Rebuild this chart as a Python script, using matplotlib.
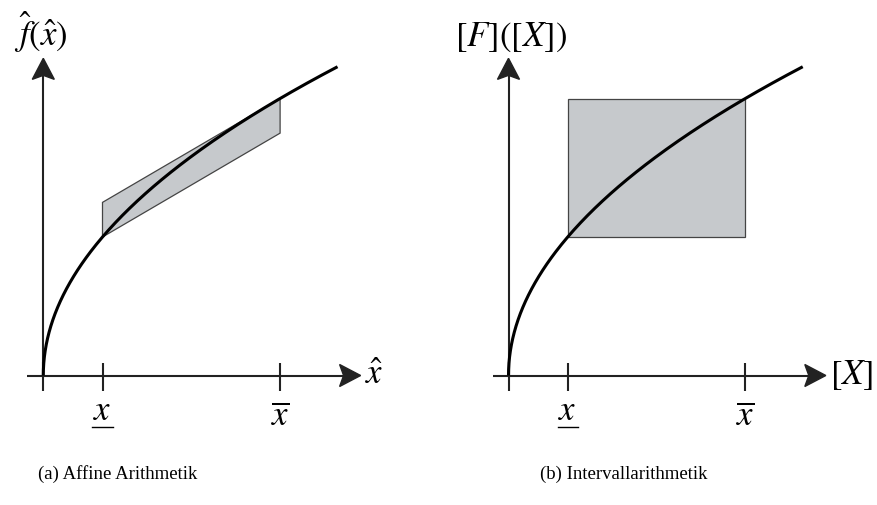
import numpy as np
import matplotlib.pyplot as plt
from matplotlib.patches import Polygon

plt.rcParams['mathtext.fontset'] = 'stix'
plt.rcParams['font.family'] = ['Liberation Serif', 'DejaVu Serif']

# interval [x_lo, x_hi] and where the drawn curve stops
x_lo = 1.0
x_hi = 4.0
x_end = 4.97
captions = ['(a) Affine Arithmetik', '(b) Intervallarithmetik']
y_labels = [r'$\hat{f}(\hat{x})$', r'$[F]([X])$']
x_labels = [r'$\hat{x}$', r'$[X]$']

W, H = 877, 505
sx, sy = 59.2, 138.5   # pixels per data unit
oy = 375.5             # pixel row of the x axis
axis_col = '#222222'
fill_col = '#c6c9cc'
edge_col = '#444444'
math_size = 25


def f(x):
    return np.sqrt(x)


def df(x):
    return 0.5 / np.sqrt(x)


def make_axes(fig, left_px, right_px, ox):
    ax = fig.add_axes([left_px / W, 0, (right_px - left_px) / W, 1])
    ax.set_xlim((left_px - ox) / sx, (right_px - ox) / sx)
    ax.set_ylim((oy - H) / sy, oy / sy)
    ax.axis('off')
    return ax


def draw_frame(ax, x_label, y_label, y_label_x):
    x_tip, y_tip = 5.36, 2.29
    L, w, n = 21, 11, 4   # arrow head length, half width, notch (px)
    ax.plot([-0.27, x_tip - (L - n) / sx], [0, 0], color=axis_col, lw=1.5,
            solid_capstyle='butt', zorder=3)
    ax.plot([0, 0], [-15.5 / sy, y_tip - (L - n) / sy], color=axis_col,
            lw=1.5, solid_capstyle='butt', zorder=3)
    ax.add_patch(Polygon([(x_tip, 0), (x_tip - L / sx, w / sy),
                          (x_tip - (L - n) / sx, 0), (x_tip - L / sx, -w / sy)],
                         closed=True, color=axis_col, zorder=4))
    ax.add_patch(Polygon([(0, y_tip), (w / sx, y_tip - L / sy),
                          (0, y_tip - (L - n) / sy), (-w / sx, y_tip - L / sy)],
                         closed=True, color=axis_col, zorder=4))
    for xt in (x_lo, x_hi):
        ax.plot([xt, xt], [-15.5 / sy, 12.5 / sy], color=axis_col, lw=1.5,
                solid_capstyle='butt', zorder=3)
    ax.plot([0, 0], [0, 12.5 / sy], color=axis_col, lw=1.5, zorder=3)

    ax.text(5.43, 0.0, x_label, fontsize=math_size, ha='left', va='center')
    ax.text(y_label_x, 2.379, y_label, fontsize=math_size, ha='center',
            va='baseline')

    # interval bounds under the ticks
    ax.text(x_lo, -0.321, r'$x$', fontsize=math_size, ha='center',
            va='baseline')
    ax.plot([x_lo - 0.17, x_lo + 0.17], [-0.375, -0.375], color='black',
            lw=1.0)
    ax.text(x_hi, -0.357, r'$\overline{x}$', fontsize=math_size, ha='center',
            va='baseline')


def draw_curve(ax):
    xs = np.linspace(0, np.sqrt(x_end), 300) ** 2
    ax.plot(xs, f(xs), color='black', lw=2.2, zorder=5,
            solid_capstyle='butt')


fig = plt.figure(figsize=(W / 100, H / 100), dpi=100)

# (a) affine form: band with slope f'(x_hi) through both endpoints
ax1 = make_axes(fig, 0, W / 2, 43.3)
slope = df(x_hi)
band = [(x_lo, f(x_lo)),
        (x_hi, f(x_lo) + slope * (x_hi - x_lo)),
        (x_hi, f(x_hi)),
        (x_lo, f(x_hi) - slope * (x_hi - x_lo))]
ax1.add_patch(Polygon(band, closed=True, facecolor=fill_col,
                      edgecolor=edge_col, lw=0.9, zorder=2))
draw_curve(ax1)
draw_frame(ax1, x_labels[0], y_labels[0], -0.04)

# (b) interval enclosure: plain box
ax2 = make_axes(fig, W / 2, W, 508.5)
box = [(x_lo, f(x_lo)), (x_hi, f(x_lo)), (x_hi, f(x_hi)), (x_lo, f(x_hi))]
ax2.add_patch(Polygon(box, closed=True, facecolor=fill_col,
                      edgecolor=edge_col, lw=0.9, zorder=2))
draw_curve(ax2)
draw_frame(ax2, x_labels[1], y_labels[1], 0.04)

fig.text(118 / W, 1 - 474 / H, captions[0], fontsize=13.5, ha='center',
         va='center')
fig.text(624 / W, 1 - 474 / H, captions[1], fontsize=13.5, ha='center',
         va='center')

fig.savefig('out.png', dpi=100)
